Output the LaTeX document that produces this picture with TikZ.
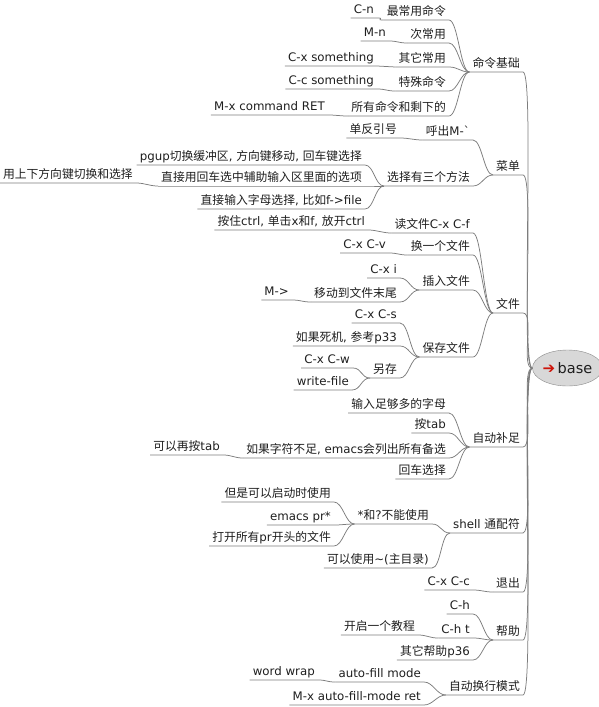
\documentclass[tikz,border=0pt]{standalone}
\usepackage{fontspec}
\usepackage{xcolor}
\usepackage{tikz}
\usetikzlibrary{shapes.geometric}
\setmainfont{DejaVu Sans}[Ligatures=TeXOff]
\newfontfamily\cjkfont{Noto Sans CJK SC}
% CJK characters switch to the CJK font, the rest stays in DejaVu Sans
\XeTeXinterchartokenstate=1
\newXeTeXintercharclass\CJKclass
\count255="3000
\loop
  \XeTeXcharclass\count255=\CJKclass
  \advance\count255 by 1
\ifnum\count255<"A000 \repeat
\XeTeXinterchartoks 0 \CJKclass={\cjkfont}
\XeTeXinterchartoks 4095 \CJKclass={\cjkfont}
\XeTeXinterchartoks \CJKclass 0={\rmfamily}
\definecolor{C_line}{RGB}{125,125,125}
\definecolor{C_root}{RGB}{216,216,216}
\definecolor{C_text}{RGB}{30,30,30}
\definecolor{C_red}{RGB}{205,20,10}

\begin{document}
\begin{tikzpicture}[
    x=1pt, y=-1pt,
    font=\fontsize{11.8}{14}\selectfont, text=C_text,
    root/.style={draw=C_line!90, ellipse, fill=C_root, minimum width=59pt, minimum height=36pt, inner sep=0pt, font=\fontsize{14.5}{16}\selectfont},
    topic/.style={anchor=south east, inner xsep=3pt, inner ysep=1.5pt, text height=9pt, text depth=2.5pt},
    link/.style={draw=C_line, line width=0.75pt},
    branch/.style={to path={(\tikztostart.south west) -- (\tikztostart.south east) .. controls +(9,0) and +(-9,0) .. (\tikztotarget.south west)}},
    trunk/.style={to path={(\tikztostart.south west) -- (\tikztostart.south east) .. controls +(12,0) and +(-12,0) .. (\tikztotarget.west)}},
]
\useasboundingbox (0,0) rectangle (598,707);

% Root
\node[root] (base) at (567.5,368) {{\color{C_red}\fontsize{15}{16}\selectfont ➔}\,base};

% Main topics
\node[topic] (cmd) at (523,72) {命令基础};
\node[topic] (menu) at (523,175) {菜单};
\node[topic] (file) at (523,313) {文件};
\node[topic] (compl) at (523,447) {自动补足};
\node[topic] (shell) at (523,533) {shell 通配符};
\node[topic] (quit) at (523,592) {退出};
\node[topic] (help) at (523,640) {帮助};
\node[topic] (wrap) at (523,695) {自动换行模式};

% 命令基础
\node[topic] (cmd1) at (449,20) {最常用命令};
\node[topic] (cmd1a) at (377,18) {C-n};
\node[topic] (cmd2) at (449,43) {次常用};
\node[topic] (cmd2a) at (389,41) {M-n};
\node[topic] (cmd3) at (449,67) {其它常用};
\node[topic] (cmd3a) at (377,66) {C-x something};
\node[topic] (cmd4) at (449,91) {特殊命令};
\node[topic] (cmd4a) at (377,89) {C-c something};
\node[topic] (cmd5) at (449,116) {所有命令和剩下的};
\node[topic] (cmd5a) at (328,115) {M-x command RET};

% 菜单
\node[topic] (menu1) at (473,140) {呼出M-`};
\node[topic] (menu1a) at (400,138) {单反引号};
\node[topic] (menu2) at (473,186) {选择有三个方法};
\node[topic] (menu2a) at (365,165) {pgup切换缓冲区, 方向键移动, 回车键选择};
\node[topic] (menu2b) at (365,186) {直接用回车选中辅助输入区里面的选项};
\node[topic] (menu2b1) at (136,183) {用上下方向键切换和选择};
\node[topic] (menu2c) at (365,209) {直接输入字母选择, 比如f->file};

% 文件
\node[topic] (file1) at (473,233) {读文件C-x C-f};
\node[topic] (file1a) at (368,230) {按住ctrl, 单击x和f, 放开ctrl};
\node[topic] (file2) at (473,255) {换一个文件};
\node[topic] (file2a) at (389,253) {C-x C-v};
\node[topic] (file3) at (473,290) {插入文件};
\node[topic] (file3a) at (400,278) {C-x i};
\node[topic] (file3b) at (400,302) {移动到文件末尾};
\node[topic] (file3b1) at (292,300) {M->};
\node[topic] (file4) at (473,357) {保存文件};
\node[topic] (file4a) at (400,323) {C-x C-s};
\node[topic] (file4b) at (400,346) {如果死机, 参考p33};
\node[topic] (file4c) at (400,378) {另存};
\node[topic] (file4c1) at (353,368) {C-x C-w};
\node[topic] (file4c2) at (352,390) {write-file};

% 自动补足
\node[topic] (compl1) at (449,413) {输入足够多的字母};
\node[topic] (compl2) at (449,433) {按tab};
\node[topic] (compl3) at (449,458) {如果字符不足, emacs会列出所有备选};
\node[topic] (compl3a) at (223,455) {可以再按tab};
\node[topic] (compl4) at (449,479) {回车选择};

% shell 通配符
\node[topic] (shell1) at (432,524) {*和?不能使用};
\node[topic] (shell1a) at (334,502) {但是可以启动时使用};
\node[topic] (shell1b) at (334,525) {emacs pr*};
\node[topic] (shell1c) at (334,546) {打开所有pr开头的文件};
\node[topic] (shell2) at (432,568) {可以使用\textasciitilde(主目录)};

% 退出, 帮助
\node[topic] (quit1) at (473,590) {C-x C-c};
\node[topic] (help1) at (473,614) {C-h};
\node[topic] (help2) at (473,638) {C-h t};
\node[topic] (help2a) at (418,635) {开启一个教程};
\node[topic] (help3) at (473,660) {其它帮助p36};

% 自动换行模式
\node[topic] (wrap1) at (424,682) {auto-fill mode};
\node[topic] (wrap1a) at (318,680) {word wrap};
\node[topic] (wrap2) at (424,705) {M-x auto-fill-mode ret};

% Trunks to the root
\foreach \t in {cmd,menu,file,compl,shell,quit,help,wrap}
  \draw[link] (\t) to[trunk] (base);

% Branches
\draw[link] (cmd1a) to[branch] (cmd1);
\draw[link] (cmd2a) to[branch] (cmd2);
\draw[link] (cmd3a) to[branch] (cmd3);
\draw[link] (cmd4a) to[branch] (cmd4);
\draw[link] (cmd5a) to[branch] (cmd5);
\foreach \c in {cmd1,cmd2,cmd3,cmd4,cmd5}
  \draw[link] (\c) to[branch] (cmd);

\draw[link] (menu1a) to[branch] (menu1);
\draw[link] (menu2b1) to[branch] (menu2b);
\foreach \c in {menu2a,menu2b,menu2c}
  \draw[link] (\c) to[branch] (menu2);
\draw[link] (menu1) to[branch] (menu);
\draw[link] (menu2) to[branch] (menu);

\draw[link] (file1a) to[branch] (file1);
\draw[link] (file2a) to[branch] (file2);
\draw[link] (file3b1) to[branch] (file3b);
\draw[link] (file3a) to[branch] (file3);
\draw[link] (file3b) to[branch] (file3);
\draw[link] (file4c1) to[branch] (file4c);
\draw[link] (file4c2) to[branch] (file4c);
\foreach \c in {file4a,file4b,file4c}
  \draw[link] (\c) to[branch] (file4);
\foreach \c in {file1,file2,file3,file4}
  \draw[link] (\c) to[branch] (file);

\draw[link] (compl3a) to[branch] (compl3);
\foreach \c in {compl1,compl2,compl3,compl4}
  \draw[link] (\c) to[branch] (compl);

\foreach \c in {shell1a,shell1b,shell1c}
  \draw[link] (\c) to[branch] (shell1);
\draw[link] (shell1) to[branch] (shell);
\draw[link] (shell2) to[branch] (shell);

\draw[link] (quit1) to[branch] (quit);

\draw[link] (help2a) to[branch] (help2);
\foreach \c in {help1,help2,help3}
  \draw[link] (\c) to[branch] (help);

\draw[link] (wrap1a) to[branch] (wrap1);
\draw[link] (wrap1) to[branch] (wrap);
\draw[link] (wrap2) to[branch] (wrap);
\end{tikzpicture}
\end{document}
